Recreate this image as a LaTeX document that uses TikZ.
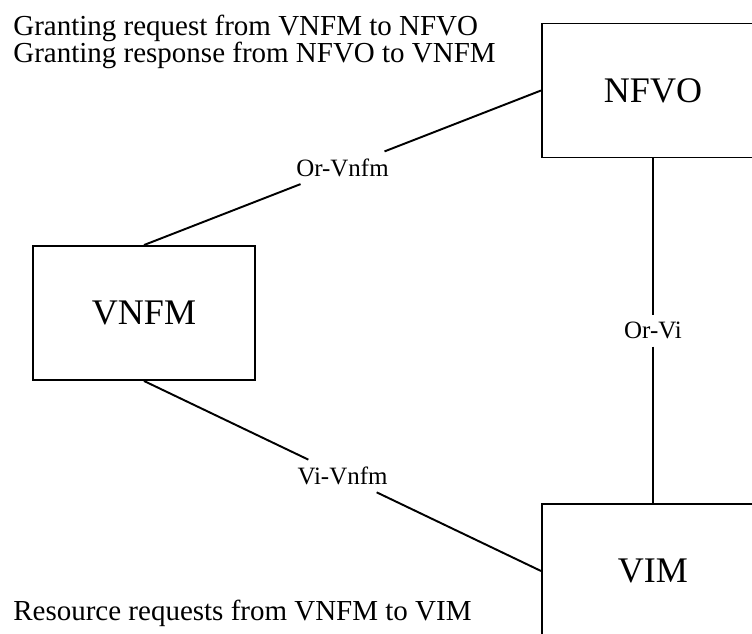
\documentclass[tikz,border=0pt]{standalone}
\usepackage{fontspec}
\setmainfont{Liberation Serif}
\usepackage{tikz}
\usetikzlibrary{positioning}

\begin{document}
\begin{tikzpicture}[
                >=stealth,
                % Define styles for nodes
                entity/.style={rectangle, draw=black, line width=1.1pt, minimum width=4.44cm, minimum height=2.68cm, font=\fontsize{20.5}{24}\selectfont},
                link/.style={line width=1.1pt, draw=black},
                iface/.style={midway, inner sep=4pt, font=\fontsize{14.2}{16}\selectfont},
                note/.style={align=left, inner sep=0pt, font=\fontsize{16.5}{15.4}\selectfont}
            ]

                % Fix the frame
                \clip (0,0) rectangle (15.04,12.66);

                % Define nodes
                \node[entity] (NFVO) at (13.06,10.85) {NFVO};
                \node[entity] (VNFM) at (2.88,6.40) {VNFM};
                \node[entity] (VIM) at (13.06,1.24) {VIM};

                % Interface names halfway between the boxes
                \path (VNFM.north) -- (NFVO.west) node[iface] (orvnfm) {Or-Vnfm};
                \path (VNFM.south) -- (VIM.west) node[iface] (vivnfm) {Vi-Vnfm};
                \path (NFVO.south) -- (VIM.north) node[iface] (orvi) {Or-Vi};

                % Draw reference points, broken at the names
                \draw[link] (VNFM.north) -- (orvnfm);
                \draw[link] (orvnfm) -- (NFVO.west);
                \draw[link] (VNFM.south) -- (vivnfm);
                \draw[link] (vivnfm) -- (VIM.west);
                \draw[link] (NFVO.south) -- (orvi);
                \draw[link] (orvi) -- (VIM.north);

                % Add annotations
                \node[note, anchor=north west] (grant) at (0.26,12.37) {Granting request from VNFM to NFVO\\Granting response from NFVO to VNFM};
                \node[note, anchor=base west] (resource) at (0.26,0.26) {Resource requests from VNFM to VIM};
            \end{tikzpicture}
\end{document}
